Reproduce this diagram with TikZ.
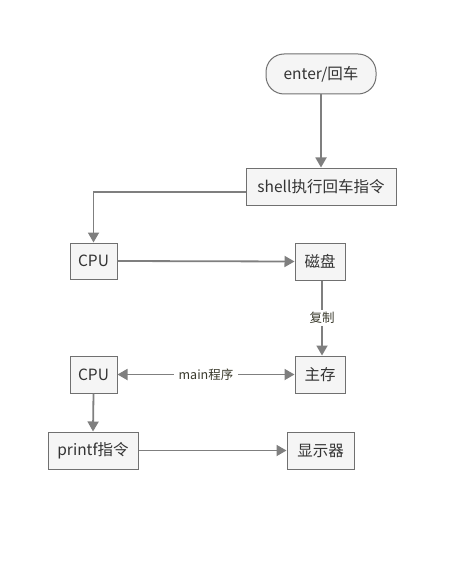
\documentclass[tikz,border=0pt]{standalone}
\usepackage{fontspec}
\setmainfont{Noto Sans CJK SC}
\usetikzlibrary{arrows.meta}
\definecolor{boxfill}{HTML}{F5F5F5}
\definecolor{boxline}{HTML}{707070}
\definecolor{edge}{HTML}{7F7F7F}
\definecolor{txt}{HTML}{333333}
\definecolor{lbl}{HTML}{3A3A2C}
\tikzset{
  box/.style={draw=boxline, fill=boxfill, line width=1pt, text=txt, font=\fontsize{15.5}{17}\selectfont, inner sep=0pt, anchor=center},
  conn/.style={draw=edge, line width=1.8pt, -{Triangle[length=10pt,width=11pt]}},
  lab/.style={fill=white, text=lbl, font=\fontsize{12.5}{14}\selectfont, inner sep=2pt}
}
\begin{document}
\begin{tikzpicture}[x=1pt,y=-1pt]
\useasboundingbox (0,0) rectangle (461,564);
\node[box, rounded corners=18pt, minimum width=110pt, minimum height=40pt] (enter) at (321,74) {enter/回车};
\node[box, minimum width=150pt, minimum height=37pt] (shell) at (321,186.5) {shell执行回车指令};
\node[box, minimum width=47pt, minimum height=36pt] (cpu1) at (93.5,261) {CPU};
\node[box, minimum width=50pt, minimum height=37pt] (disk) at (320,261.5) {磁盘};
\node[box, minimum width=47pt, minimum height=37pt] (cpu2) at (93.5,374.5) {CPU};
\node[box, minimum width=50pt, minimum height=37pt] (mem) at (320,374.5) {主存};
\node[box, minimum width=90pt, minimum height=37pt] (printf) at (93,450.5) {printf指令};
\node[box, minimum width=67pt, minimum height=37pt] (disp) at (320.5,450.5) {显示器};
\coordinate (bend) at (93.5,192);
\draw[conn] (enter.south) -- (shell.north);
\draw[conn] (shell.west |- bend) -- (bend) -- (cpu1.north);
\draw[conn] (cpu1.east) -- (disk.west);
\draw[conn] ([xshift=2pt]disk.south) -- node[lab]{复制} ([xshift=2pt]mem.north);
\draw[conn, {Triangle[length=10pt,width=11pt]}-{Triangle[length=10pt,width=11pt]}] (cpu2.east) -- node[lab, inner xsep=5pt]{main程序} (mem.west);
\draw[conn] (cpu2.south) -- (printf.north);
\draw[conn] (printf.east) -- (disp.west);
\end{tikzpicture}
\end{document}
